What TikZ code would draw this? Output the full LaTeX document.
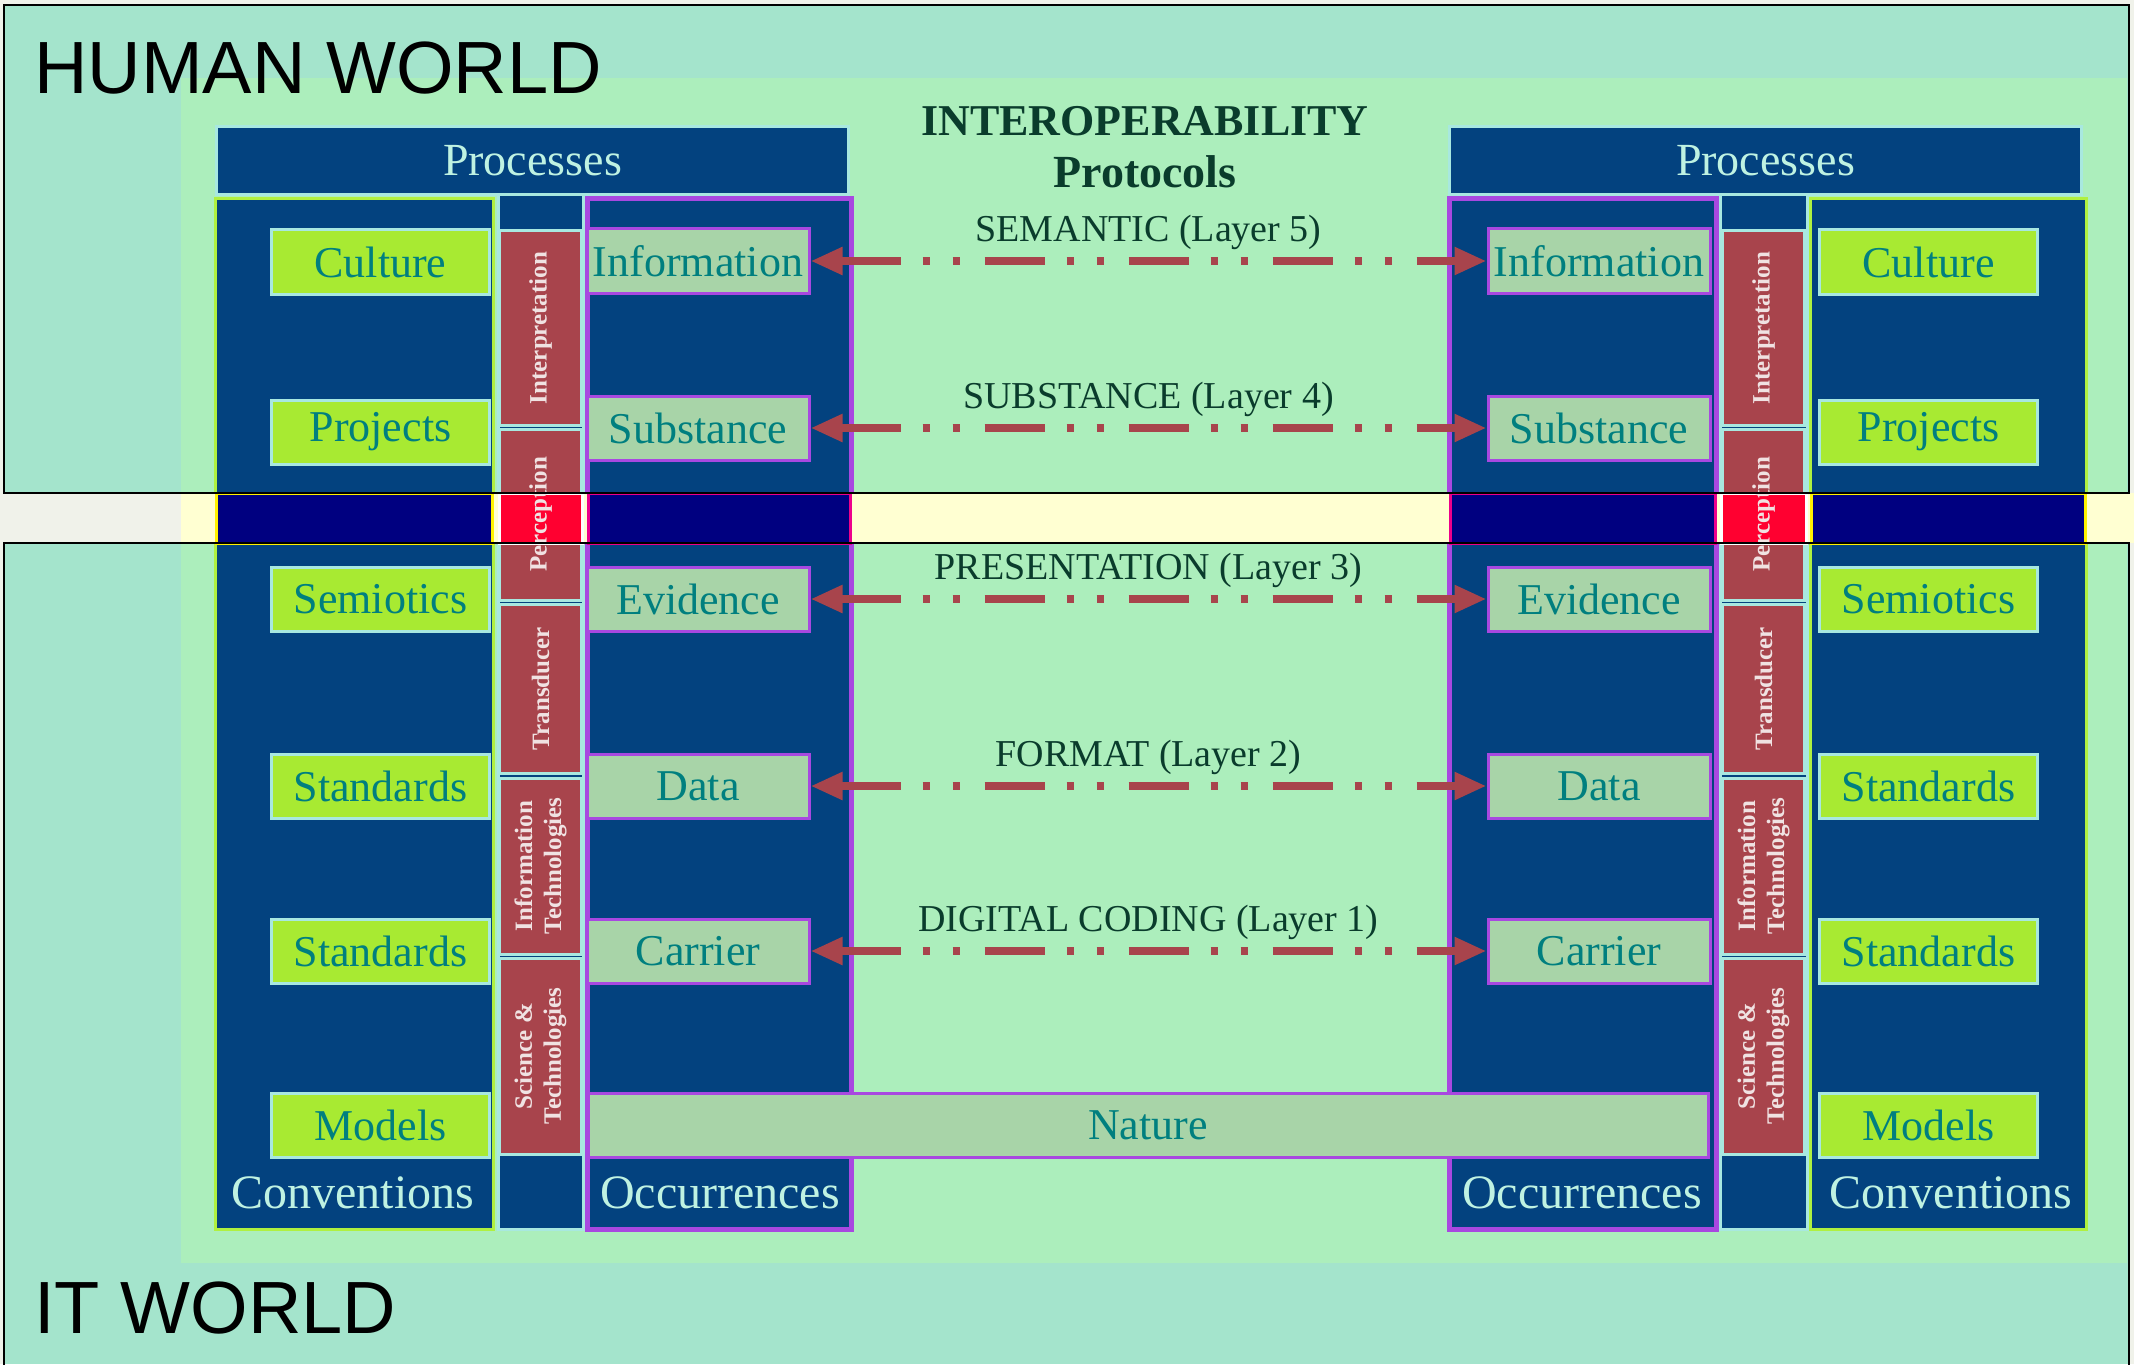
\documentclass[tikz,border=0pt]{standalone}
\usepackage{fontspec}
\setmainfont{Liberation Serif}
\newfontfamily\worldfont{Liberation Sans}
\usetikzlibrary{arrows.meta}

\definecolor{paper}{HTML}{F0F2EA}
\definecolor{seagreen}{HTML}{A4E4CC}
\definecolor{paleleaf}{HTML}{ACEEBC}
\definecolor{cream}{HTML}{FFFFD2}
\definecolor{deepblue}{HTML}{03427F}
\definecolor{navyband}{HTML}{000080}
\definecolor{hotred}{HTML}{FF0030}
\definecolor{icecyan}{HTML}{A8E8E0}
\definecolor{limefill}{HTML}{A8EA32}
\definecolor{limeedge}{HTML}{B0F040}
\definecolor{purpleedge}{HTML}{A848E0}
\definecolor{sagefill}{HTML}{A8D4A8}
\definecolor{tealtext}{HTML}{007F7F}
\definecolor{brick}{HTML}{A8444C}
\definecolor{pinktext}{HTML}{F0E2E2}
\definecolor{pinetext}{HTML}{0A3C2C}
\definecolor{headtext}{HTML}{BFF2E2}

\tikzset{
  worldframe/.style={draw=black, line width=1.2pt},
  worldlabel/.style={anchor=base west, inner sep=0pt, font=\worldfont\fontsize{37}{40}\selectfont},
  headbar/.style={fill=deepblue, draw=icecyan, line width=1.5pt, minimum width=316pt, minimum height=34pt,
    inner sep=0pt, text=headtext, font=\fontsize{23}{26}\selectfont},
  convcol/.style={fill=deepblue, draw=limeedge, line width=1.5pt},
  occcol/.style={fill=deepblue, draw=purpleedge, line width=2.5pt},
  midcol/.style={fill=deepblue, draw=icecyan, line width=1.5pt},
  convbox/.style={fill=limefill, draw=icecyan, line width=1.5pt, minimum width=109pt, minimum height=32pt,
    inner sep=0pt, text=tealtext, font=\fontsize{22}{24}\selectfont},
  occbox/.style={convbox, fill=sagefill, draw=purpleedge, minimum width=111pt},
  redbox/.style={fill=brick, draw=icecyan, line width=1.5pt, rotate=90, minimum height=41pt, inner sep=0pt},
  redtext/.style={rotate=90, inner sep=0pt, align=center, text=pinktext, font=\bfseries\fontsize{12.5}{14.5}\selectfont},
  colname/.style={anchor=base, inner sep=0pt, text=headtext, font=\fontsize{24}{26}\selectfont},
  bandpiece/.style={line width=1.5pt},
  layerlink/.style={draw=brick, line width=4pt,
    dash pattern=on 30pt off 11pt on 3.5pt off 11.5pt on 3.5pt off 12.5pt,
    arrows={Triangle[length=16pt,width=13pt]-Triangle[length=16pt,width=13pt]}},
  layername/.style={above=1.5pt, inner sep=2pt, text=pinetext, font=\fontsize{19}{21}\selectfont},
  titletext/.style={anchor=base, inner sep=0pt, text=pinetext, font=\bfseries\fontsize{22}{24}\selectfont},
}

\begin{document}
\begin{tikzpicture}[x=0.5pt, y=-0.5pt]
\clip (0,0) rectangle (2134,1364);

% backgrounds
\fill[paper] (0,0) rectangle (2134,1364);
\fill[seagreen] (4,5) rectangle (2129,493);
\fill[seagreen] (4,543) rectangle (2129,1364);
\fill[paleleaf] (181,78) rectangle (2127,1263);

% left side
\node[headbar] (procL) at (532.5,161) {Processes};
\draw[convcol] (215,199) rectangle (493,1229);
\draw[midcol] (498,195) rectangle (583,1229);
\draw[occcol] (587,199) rectangle (851,1229);

\node[convbox] (cultL) at (380.5,262) {Culture};
\node[convbox] (projL) at (380.5,432) {Projects};
\node[convbox] (semL) at (380.5,599) {Semiotics};
\node[convbox] (stdaL) at (380.5,786) {Standards};
\node[convbox] (stdbL) at (380.5,951) {Standards};
\node[convbox] (modL) at (380.5,1125) {Models};

\node[redbox, minimum width=97pt] (interpL) at (540.5,328) {};
\node[redbox, minimum width=85.5pt] (percL) at (540.5,514.5) {};
\node[redbox, minimum width=84.5pt] (transL) at (540.5,688.5) {};
\node[redbox, minimum width=88pt] (infotL) at (540.5,866) {};
\node[redbox, minimum width=98pt] (sciL) at (540.5,1056) {};

\node[occbox] (infoL) at (698,261) {Information};
\node[occbox] (substL) at (698,428) {Substance};
\node[occbox] (evidL) at (698,599) {Evidence};
\node[occbox] (dataL) at (698,786) {Data};
\node[occbox] (carrL) at (698,951) {Carrier};

\node[colname] (convnameL) at (353,1208) {Conventions};
\node[colname] (occnameL) at (720,1208) {Occurrences};

% right side
\node[headbar] (procR) at (1765.5,161) {Processes};
\draw[occcol] (1449,199) rectangle (1716,1229);
\draw[midcol] (1720,195) rectangle (1807,1229);
\draw[convcol] (1810,199) rectangle (2086,1229);

\node[occbox] (infoR) at (1599,261) {Information};
\node[occbox] (substR) at (1599,428) {Substance};
\node[occbox] (evidR) at (1599,599) {Evidence};
\node[occbox] (dataR) at (1599,786) {Data};
\node[occbox] (carrR) at (1599,951) {Carrier};

\node[redbox, minimum width=97pt] (interpR) at (1763.5,328) {};
\node[redbox, minimum width=85.5pt] (percR) at (1763.5,514.5) {};
\node[redbox, minimum width=84.5pt] (transR) at (1763.5,688.5) {};
\node[redbox, minimum width=88pt] (infotR) at (1763.5,866) {};
\node[redbox, minimum width=98pt] (sciR) at (1763.5,1056) {};

\node[convbox] (cultR) at (1928.5,262) {Culture};
\node[convbox] (projR) at (1928.5,432) {Projects};
\node[convbox] (semR) at (1928.5,599) {Semiotics};
\node[convbox] (stdaR) at (1928.5,786) {Standards};
\node[convbox] (stdbR) at (1928.5,951) {Standards};
\node[convbox] (modR) at (1928.5,1125) {Models};

\node[colname] (occnameR) at (1582,1208) {Occurrences};
\node[colname] (convnameR) at (1951,1208) {Conventions};

\node[occbox, minimum width=560pt] (nature) at (1148,1125) {Nature};

% band between the two worlds
\fill[cream] (181,493) rectangle (2134,543);
\foreach \xa/\xb/\edge/\body in {216/492/yellow/navyband, 499/582/white/hotred, 588/850/magenta/navyband,
    1450/1715/magenta/navyband, 1721/1806/white/hotred, 1811/2085/yellow/navyband}
  \draw[bandpiece, draw=\edge, fill=\body] (\xa,493) rectangle (\xb,543);

% red box texts
\node[redtext] at (interpL.center) {Interpretation};
\node[redtext] at (percL.center) {Perception};
\node[redtext] at (transL.center) {Transducer};
\node[redtext] at (infotL.center) {Information\\Technologies};
\node[redtext] at (sciL.center) {Science \&\\Technologies};
\node[redtext] at (interpR.center) {Interpretation};
\node[redtext] at (percR.center) {Perception};
\node[redtext] at (transR.center) {Transducer};
\node[redtext] at (infotR.center) {Information\\Technologies};
\node[redtext] at (sciR.center) {Science \&\\Technologies};

% worlds
\draw[worldframe] (4,5) rectangle (2129,493);
\draw[worldframe] (4,543) rectangle (2129,1380);
\node[worldlabel] (human) at (34,94) {HUMAN WORLD};
\node[worldlabel] (itw) at (34,1333) {IT WORLD};

% protocols
\node[titletext] (interop) at (1145,136) {INTEROPERABILITY};
\node[titletext, font=\bfseries\fontsize{23}{25}\selectfont] (protocols) at (1145,188) {Protocols};

\draw[layerlink] (infoL) -- node[layername] {SEMANTIC (Layer 5)} (infoR);
\draw[layerlink] (substL) -- node[layername] {SUBSTANCE (Layer 4)} (substR);
\draw[layerlink] (evidL) -- node[layername] {PRESENTATION (Layer 3)} (evidR);
\draw[layerlink] (dataL) -- node[layername] {FORMAT (Layer 2)} (dataR);
\draw[layerlink] (carrL) -- node[layername] {DIGITAL CODING (Layer 1)} (carrR);
\end{tikzpicture}
\end{document}
